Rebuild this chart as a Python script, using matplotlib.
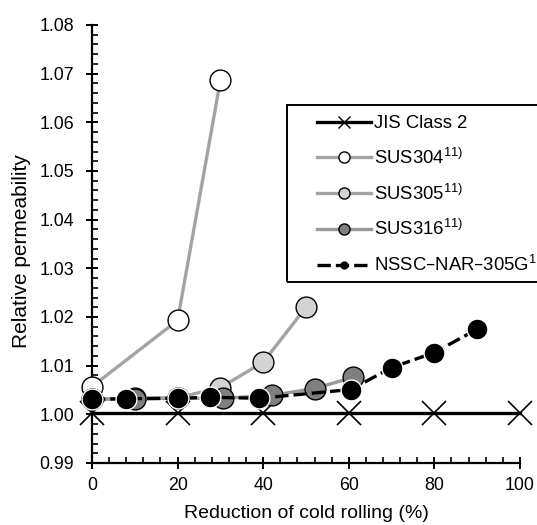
import matplotlib.pyplot as plt
from matplotlib.lines import Line2D
from matplotlib.patches import Rectangle
from matplotlib.ticker import MultipleLocator

plt.rcParams['font.family'] = ['Liberation Sans', 'DejaVu Sans']
plt.rcParams['font.size'] = 12.8

# Relative permeability vs. cold rolling reduction
jis_x = [0, 20, 40, 60, 80, 100]
jis_y = [1.0002, 1.0002, 1.0002, 1.0002, 1.0002, 1.0002]

sus304_x = [0, 20, 30]
sus304_y = [1.0057, 1.0193, 1.0686]

sus305_x = [0, 10, 20, 30, 40, 50]
sus305_y = [1.0031, 1.0033, 1.0034, 1.0055, 1.0107, 1.0220]

sus316_x = [0, 10, 20, 30.5, 42, 52, 61]
sus316_y = [1.0031, 1.0032, 1.0033, 1.0033, 1.0039, 1.0053, 1.0076]

nssc_x = [0, 8, 20, 27.5, 39, 60.5, 70, 80, 90]
nssc_y = [1.0031, 1.0032, 1.0033, 1.0035, 1.0033, 1.0051, 1.0096, 1.0127, 1.0175]

labels = ['JIS Class 2',
          r'SUS304$^{\mathregular{11)}}$',
          r'SUS305$^{\mathregular{11)}}$',
          r'SUS316$^{\mathregular{11)}}$',
          'NSSC\u2013NAR\u2013305G$^{\\mathregular{11)}}$']

fig = plt.figure(figsize=(5.37, 5.25), dpi=100)
ax = fig.add_axes([0.1713, 0.1181, 0.797, 0.8343])

lw = 2.4
ms = 15
gray = '#a3a3a3'

ax.plot(jis_x, jis_y, color='black', lw=lw, marker='x', ms=17, mew=1.2,
        clip_on=False, zorder=2)
ax.plot(sus304_x, sus304_y, color=gray, lw=lw, marker='o', ms=ms,
        mfc='white', mec='black', mew=1.0, clip_on=False, zorder=3)
ax.plot(sus305_x, sus305_y, color=gray, lw=lw, marker='o', ms=ms,
        mfc='#d3d3d3', mec='black', mew=1.0, clip_on=False, zorder=4)
ax.plot(sus316_x, sus316_y, color='#999999', lw=lw, marker='o', ms=ms,
        mfc='#7f7f7f', mec='black', mew=1.0, clip_on=False, zorder=5)
nssc_line, = ax.plot(nssc_x, nssc_y, color='black', lw=lw, marker='o',
                     ms=ms, mfc='black', mec='white', mew=1.0,
                     clip_on=False, zorder=6)
nssc_line.set_dashes((4, 1.5))

ax.set_xlim(0, 100)
ax.set_ylim(0.99, 1.08)
ax.xaxis.set_major_locator(MultipleLocator(20))
ax.xaxis.set_minor_locator(MultipleLocator(4))
ax.yaxis.set_major_locator(MultipleLocator(0.01))
ax.yaxis.set_minor_locator(MultipleLocator(0.002))
ax.yaxis.set_major_formatter(lambda v, pos: f'{v:.2f}')

for side in ['top', 'right']:
    ax.spines[side].set_visible(False)
for side in ['left', 'bottom']:
    ax.spines[side].set_linewidth(1.6)

ax.tick_params(which='major', direction='inout', length=8, width=1.4)
ax.tick_params(which='minor', direction='in', length=4, width=1.2)
ax.tick_params(axis='y', which='major', pad=9)
ax.tick_params(axis='x', which='major', pad=6)

ax.set_xlabel('Reduction of cold rolling (%)', fontsize=14, labelpad=8)
ax.set_ylabel('Relative permeability', fontsize=15)
ax.yaxis.set_label_coords(-0.143, 0.485)

# Legend with smaller markers and an open-ended frame
handles = [
    Line2D([], [], color='black', lw=lw, marker='x', ms=8, mew=1.0),
    Line2D([], [], color=gray, lw=lw, marker='o', ms=8, mfc='white',
           mec='black', mew=1.0),
    Line2D([], [], color=gray, lw=lw, marker='o', ms=8, mfc='#d3d3d3',
           mec='black', mew=1.0),
    Line2D([], [], color='#999999', lw=lw, marker='o', ms=8, mfc='#7f7f7f',
           mec='black', mew=1.0),
    Line2D([], [], color='black', lw=lw, marker='o', ms=5, mfc='black',
           mec='black', mew=1.0, dashes=(4, 1.5)),
]
fig.legend(handles, labels, loc='upper left',
           bbox_to_anchor=(317 / 537, 1 - 115 / 525), frameon=False,
           borderpad=0, borderaxespad=0, handlelength=2.9,
           handletextpad=0.2, labelspacing=0.85, fontsize=13.3)
fig.add_artist(Rectangle((287 / 537, 1 - 282 / 525), 0.5, 177 / 525,
                         transform=fig.transFigure, fill=False,
                         edgecolor='black', lw=1.4))

fig.savefig('out.png', dpi=100)
